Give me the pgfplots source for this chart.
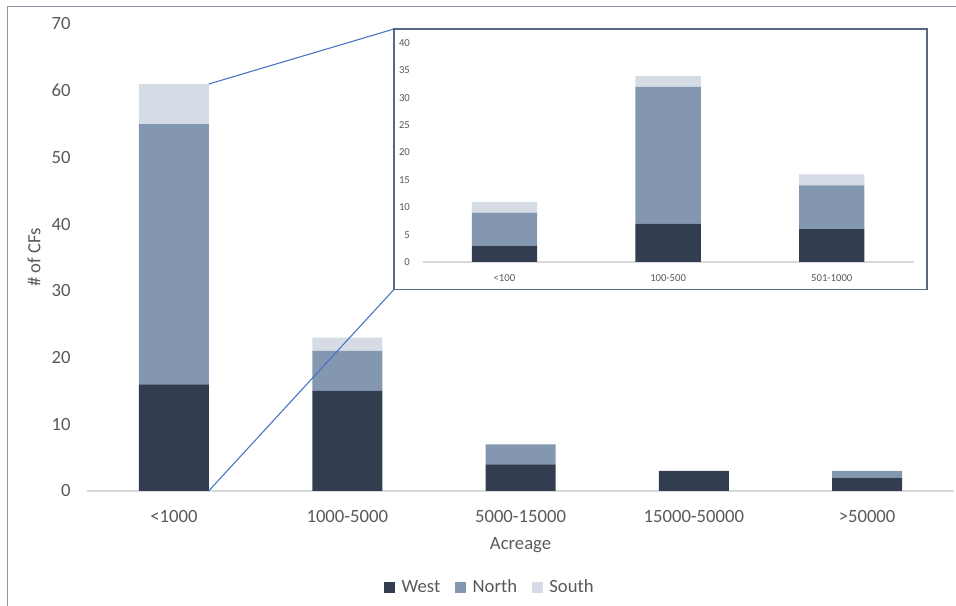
\documentclass[border=0pt]{standalone}
\usepackage{pgfplots}
\pgfplotsset{compat=1.18}
\usepackage{fontspec}
\setmainfont{Carlito}
\definecolor{west}{HTML}{323E50}
\definecolor{north}{HTML}{8497B0}
\definecolor{south}{HTML}{D6DCE5}
\definecolor{txt}{HTML}{595959}
\definecolor{axl}{HTML}{D9D9D9}
\definecolor{conn}{HTML}{4472C4}
\definecolor{frm}{HTML}{8C95A6}
\definecolor{ifrm}{HTML}{5A6782}
\begin{document}
\begin{tikzpicture}
\path[use as bounding box] (0pt,0pt) rectangle (717pt,454.5pt);
\draw[frm, line width=1pt] (5.5pt,-5pt) -- (5.5pt,449.5pt) -- (720pt,449.5pt);
\begin{axis}[
  at={(65.5pt,86.25pt)}, anchor=south west,
  scale only axis, width=649.8pt, height=350.25pt,
  ybar stacked, bar width=52.5pt,
  xmin=-0.5, xmax=4.5, ymin=0, ymax=70,
  ytick={0,10,...,70},
  xtick=data,
  xticklabels={<1000,1000-5000,5000-15000,15000-50000,>50000},
  axis x line*=bottom, axis y line*=left,
  x axis line style={axl, line width=1pt, -},
  y axis line style={draw=none},
  major tick length=0pt,
  tick label style={txt, font=\fontsize{14}{16}\selectfont},
  /pgf/number format/assume math mode=true,
  xticklabel style={yshift=-11pt},
  yticklabel style={xshift=-9pt},
  xlabel={Acreage}, ylabel={\# of CFs},
  label style={txt, font=\fontsize{14}{16}\selectfont},
  xlabel style={yshift=-4.5pt},
  ylabel style={yshift=1.5pt},
  legend style={at={(0.465,-0.2065)}, anchor=center, draw=none,
    legend columns=3, font=\fontsize{14}{16}\selectfont\color{txt},
    /tikz/every odd column/.append style={column sep=3pt},
    /tikz/every even column/.append style={column sep=9pt}},
  legend image code/.code={\fill[#1] (0pt,-4.1pt) rectangle (8.25pt,4.15pt);},
  clip=false,
]
\addplot[fill=west, draw=none] coordinates {(0,16) (1,15) (2,4) (3,3) (4,2)};
\addplot[fill=north, draw=none] coordinates {(0,39) (1,6) (2,3) (3,0) (4,1)};
\addplot[fill=south, draw=none] coordinates {(0,6) (1,2) (2,0) (3,0) (4,0)};
\legend{West,North,South}
\coordinate (btop) at (axis cs:0.2,61);
\coordinate (bbot) at (axis cs:0.2,0);
\end{axis}
\draw[conn, line width=0.8pt] (btop) -- (295.5pt,432.75pt);
\draw[conn, line width=0.8pt] (bbot) -- (295.5pt,237.4pt);
\draw[ifrm, fill=white, line width=1pt] (295.5pt,432.75pt) rectangle (695.25pt,237.4pt);
\begin{axis}[
  at={(316.95pt,258pt)}, anchor=south west,
  scale only axis, width=368.25pt, height=164.25pt,
  ybar stacked, bar width=49pt,
  xmin=-0.5, xmax=2.5, ymin=0, ymax=40,
  ytick={0,5,...,40},
  xtick=data,
  xticklabels={<100,100-500,501-1000},
  axis x line*=bottom, axis y line*=left,
  x axis line style={axl, line width=1pt, -},
  y axis line style={draw=none},
  major tick length=0pt,
  tick label style={txt, font=\fontsize{8}{9}\selectfont},
  /pgf/number format/assume math mode=true,
  xticklabel style={yshift=-6pt},
  yticklabel style={xshift=-6pt},
]
\addplot[fill=west, draw=none] coordinates {(0,3) (1,7) (2,6)};
\addplot[fill=north, draw=none] coordinates {(0,6) (1,25) (2,8)};
\addplot[fill=south, draw=none] coordinates {(0,2) (1,2) (2,2)};
\end{axis}
\end{tikzpicture}
\end{document}
